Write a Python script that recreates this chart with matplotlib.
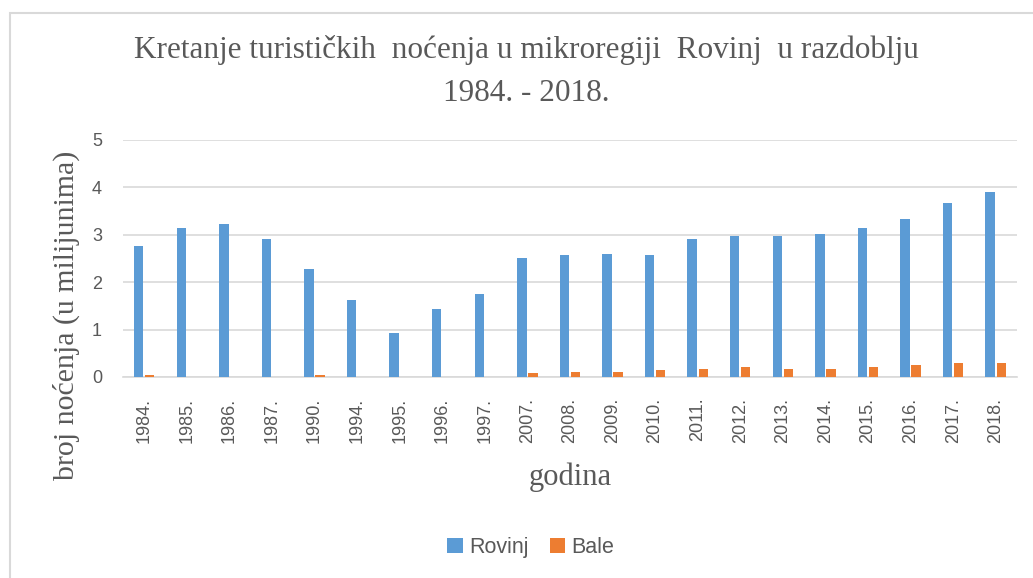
import numpy as np
import matplotlib
matplotlib.use('Agg')
import matplotlib.pyplot as plt
from matplotlib.patches import Rectangle

# data (millions of overnight stays)
godine = ['1984.', '1985.', '1986.', '1987.', '1990.', '1994.', '1995.', '1996.', '1997.',
          '2007.', '2008.', '2009.', '2010.', '2011.', '2012.', '2013.', '2014.', '2015.',
          '2016.', '2017.', '2018.']
rovinj = [2.76, 3.14, 3.22, 2.92, 2.28, 1.63, 0.93, 1.44, 1.76,
          2.52, 2.58, 2.60, 2.58, 2.92, 2.98, 2.98, 3.01, 3.14, 3.33, 3.68, 3.90]
bale = [0.035, 0, 0, 0, 0.035, 0, 0, 0, 0,
        0.09, 0.11, 0.11, 0.14, 0.175, 0.20, 0.175, 0.175, 0.22, 0.25, 0.30, 0.30]

naslov = 'Kretanje turističkih  noćenja u mikroregiji  Rovinj  u razdoblju\n1984. - 2018.'

blue = '#5B9BD5'
orange = '#ED7D31'
grey_txt = '#595959'
grid_c = '#D9D9D9'

fig = plt.figure(figsize=(10.33, 5.78), dpi=100)
ax = fig.add_axes([0.119, 0.3478, 0.8655, 0.41])

x = np.arange(len(godine))
w = 0.22
ax.bar(x - 0.13, rovinj, w, color=blue, label='Rovinj', zorder=3)
ax.bar(x + 0.13, bale, w, color=orange, label='Bale', zorder=3)

ax.set_xlim(-0.5, len(godine) - 0.5)
ax.set_ylim(0, 5)
ax.set_yticks(range(6))
ax.yaxis.grid(True, color=grid_c, lw=1.2, zorder=0)
for s in ['top', 'right', 'left']:
    ax.spines[s].set_visible(False)
ax.spines['bottom'].set_color(grid_c)
ax.spines['bottom'].set_linewidth(1.2)
ax.tick_params(length=0)
ax.tick_params(axis='y', pad=15, labelsize=13, labelcolor=grey_txt)
ax.set_xticks(x)
ax.set_xticklabels(godine, rotation=90, fontsize=13, color=grey_txt,
                   family='Liberation Sans')
for t in ax.get_yticklabels():
    t.set_family('Liberation Sans')
ax.tick_params(axis='x', pad=15)

fig.text(0.5097, 0.876, naslov, ha='center', va='center', family='Liberation Serif',
         fontsize=22.5, color=grey_txt, linespacing=1.62)
fig.text(0.064, 0.455, 'broj noćenja (u milijunima)', rotation=90, ha='center',
         va='center', family='Liberation Serif', fontsize=21.5, color=grey_txt)
fig.text(0.552, 0.174, 'godina', ha='center', va='center', family='Liberation Serif',
         fontsize=22, color=grey_txt)

leg = fig.legend(loc='center', bbox_to_anchor=(0.514, 0.053), ncol=2, frameon=False,
                 handlelength=0.7, handleheight=0.7, handletextpad=0.3,
                 columnspacing=1.0, prop={'family': 'Liberation Sans', 'size': 15.5})
for t in leg.get_texts():
    t.set_color(grey_txt)

# chart border
fig.patches.append(Rectangle((10 / 1033, -0.1), 1.2, 1 - 13 / 578 + 0.1,
                             transform=fig.transFigure, fill=False,
                             edgecolor=grid_c, lw=1.5))

fig.savefig('out.png', dpi=100)
